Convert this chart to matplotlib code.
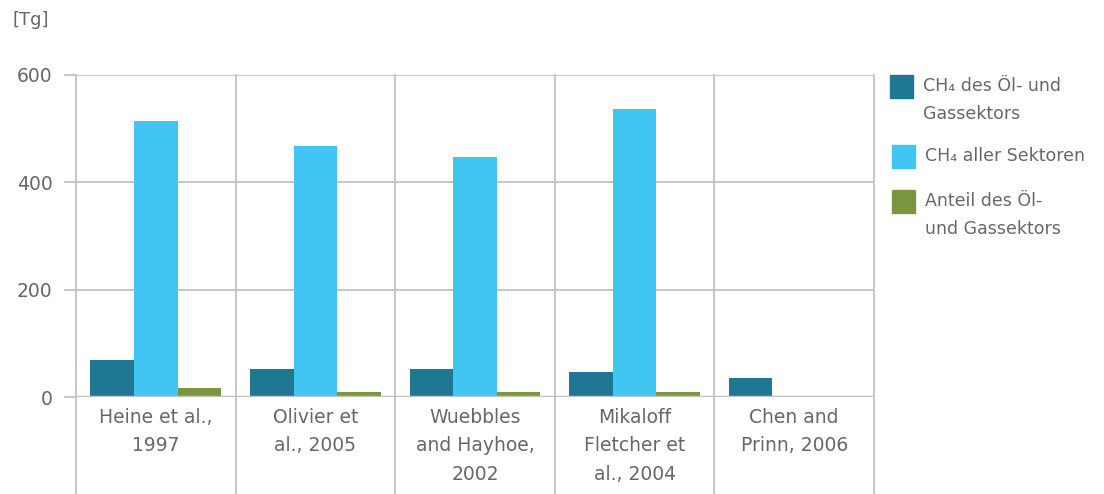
import matplotlib.pyplot as plt
from matplotlib.patches import Rectangle
import numpy as np

plt.rcParams['font.family'] = ['DejaVu Sans']

# data
studies = ['Heine et al.,\n1997', 'Olivier et\nal., 2005', 'Wuebbles\nand Hayhoe,\n2002',
           'Mikaloff\nFletcher et\nal., 2004', 'Chen and\nPrinn, 2006']
ch4_oil_gas = [69, 52, 52, 46, 35]
ch4_all = [514, 467, 447, 536, 0]
share_oil_gas = [16, 9, 9, 9, 0]

series_names = ['CH₄ des Öl- und\nGassektors', 'CH₄ aller Sektoren', 'Anteil des Öl-\nund Gassektors']
colors = ['#1e7893', '#41c6f4', '#7b963e']
text_color = '#66676a'
grid_color = '#c2c2c2'

W, H = 1104, 494
fig = plt.figure(figsize=(W / 100, H / 100), dpi=100)
ax = fig.add_axes([76 / W, (H - 397) / H, (874 - 76) / W, (397 - 75) / H])

x = np.arange(len(studies))
width = 0.273
for i, (vals, c) in enumerate(zip([ch4_oil_gas, ch4_all, share_oil_gas], colors)):
    ax.bar(x + (i - 1) * width, vals, width, color=c, zorder=3, linewidth=0)

ax.set_xlim(-0.5, len(studies) - 0.5)
ax.set_ylim(0, 600)
ax.set_yticks([0, 200, 400, 600])
ax.yaxis.grid(True, color=grid_color, linewidth=1.3, zorder=0)
ax.tick_params(axis='y', length=9, width=1.3, color=grid_color, pad=8,
               labelsize=13.5, labelcolor=text_color)
for s in ax.spines.values():
    s.set_visible(False)

# category separators, running down through the label area
for b in np.arange(-0.5, len(studies), 1.0):
    ax.axvline(b, ymin=-0.31, ymax=1, color=grid_color, linewidth=1.3,
               clip_on=False, zorder=1)
ax.axhline(0, color=grid_color, linewidth=2.5, zorder=4)

ax.set_xticks(x)
ax.set_xticklabels(studies, fontsize=13.5, color=text_color, linespacing=1.62)
ax.tick_params(axis='x', length=0, pad=8)

fig.text(13 / W, 1 - 20 / H, '[Tg]', fontsize=13, color=text_color, va='center')

# legend drawn by hand
leg_y = [75, 145, 190]
leg_x = [890, 892, 892]
for name, c, yy, xx in zip(series_names, colors, leg_y, leg_x):
    fig.patches.append(Rectangle((xx / W, 1 - (yy + 23) / H), 23 / W, 23 / H,
                                 transform=fig.transFigure, color=c))
    fig.text((xx + 33) / W, 1 - (yy + 2) / H, name, fontsize=12.5, color=text_color,
             va='top', linespacing=1.7)

fig.savefig('out.png', dpi=100)
